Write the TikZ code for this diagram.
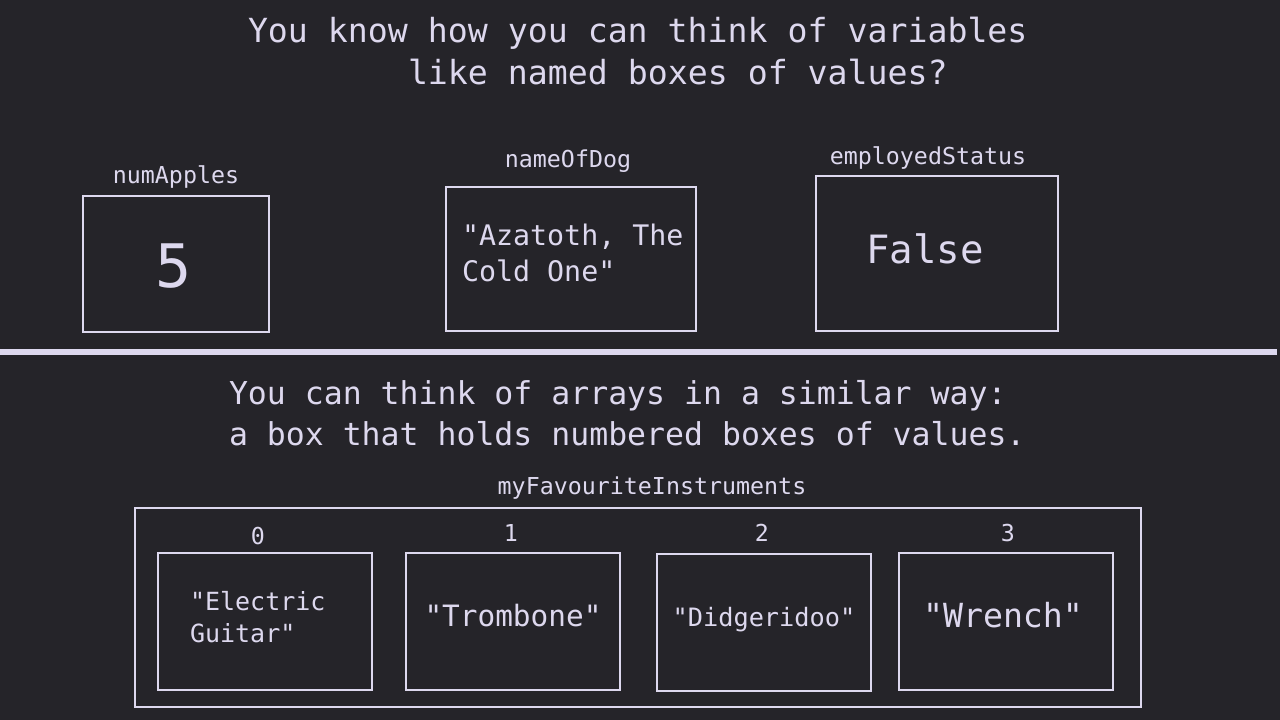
\documentclass[tikz,border=0pt]{standalone}
\usepackage{fontspec}
\newfontfamily\mono{DejaVu Sans Mono}
\definecolor{bg}{HTML}{252429}
\definecolor{fg}{HTML}{DDD8EE}
\tikzset{
  txt/.style={inner sep=0pt, outer sep=0pt, text=fg, font=\mono},
  box/.style={draw=fg, line width=2.5pt, inner sep=0pt, outer sep=0pt},
  lbl/.style={txt, anchor=base, font=\mono\fontsize{23.3}{28}\selectfont},
}
\begin{document}
\begin{tikzpicture}[x=1pt,y=-1pt]
\fill[bg] (0,0) rectangle (1280,720);
\useasboundingbox (0,0) rectangle (1280,720);

% titles
\node[txt, anchor=base west, font=\mono\fontsize{33.2}{40}\selectfont] (t1) at (248,42) {You know how you can think of variables};
\node[txt, anchor=base west, font=\mono\fontsize{33.2}{40}\selectfont] (t2) at (408,84) {like named boxes of values?};

% variable boxes
\node[lbl] (l1) at (176,183) {numApples};
\node[box, minimum width=186pt, minimum height=136pt] (b1) at (176,264) {};
\node[txt, anchor=base, font=\mono\fontsize{60}{70}\selectfont] (v1) at (174,287) {5};

\node[lbl] (l2) at (568,167) {nameOfDog};
\node[box, minimum width=250pt, minimum height=144pt] (b2) at (571,259) {};
\node[txt, anchor=base west, font=\mono\fontsize{28.3}{36}\selectfont] (v2a) at (462,245) {"Azatoth, The};
\node[txt, anchor=base west, font=\mono\fontsize{28.3}{36}\selectfont] (v2b) at (462,281) {Cold One"};

\node[lbl] (l3) at (928,164) {employedStatus};
\node[box, minimum width=242pt, minimum height=155pt] (b3) at (937,253.5) {};
\node[txt, anchor=base, font=\mono\fontsize{39}{46}\selectfont] (v3) at (925,263) {False};

% separator
\coordinate (sepL) at (0,352);
\coordinate (sepR) at (1277,352);
\draw[fg, line width=6pt] (sepL) -- (sepR);

% second text
\node[txt, anchor=base west, font=\mono\fontsize{31.5}{38}\selectfont] (t3) at (229,404) {You can think of arrays in a similar way:};
\node[txt, anchor=base west, font=\mono\fontsize{31.5}{38}\selectfont] (t4) at (229,445) {a box that holds numbered boxes of values.};

% array
\node[lbl] (la) at (652,494) {myFavouriteInstruments};
\node[box, minimum width=1006pt, minimum height=199pt] (arr) at (638,607.5) {};

\node[lbl] (i0) at (258,544) {0};
\node[lbl] (i1) at (511,541) {1};
\node[lbl] (i2) at (762,541) {2};
\node[lbl] (i3) at (1008,541) {3};

\node[box, minimum width=214pt, minimum height=137pt] (c0) at (265,621.5) {};
\node[box, minimum width=214pt, minimum height=137pt] (c1) at (513,621.5) {};
\node[box, minimum width=214pt, minimum height=137pt] (c2) at (764,622.5) {};
\node[box, minimum width=214pt, minimum height=137pt] (c3) at (1006,621.5) {};

\node[txt, anchor=base west, font=\mono\fontsize{25}{32}\selectfont] (e0a) at (190,610) {"Electric};
\node[txt, anchor=base west, font=\mono\fontsize{25}{32}\selectfont] (e0b) at (190,642) {Guitar"};
\node[txt, anchor=base, font=\mono\fontsize{29.4}{35}\selectfont] (e1) at (513,626) {"Trombone"};
\node[txt, anchor=base, font=\mono\fontsize{25.3}{30}\selectfont] (e2) at (764,626) {"Didgeridoo"};
\node[txt, anchor=base, font=\mono\fontsize{33.2}{39}\selectfont] (e3) at (1003,627) {"Wrench"};
\end{tikzpicture}
\end{document}
